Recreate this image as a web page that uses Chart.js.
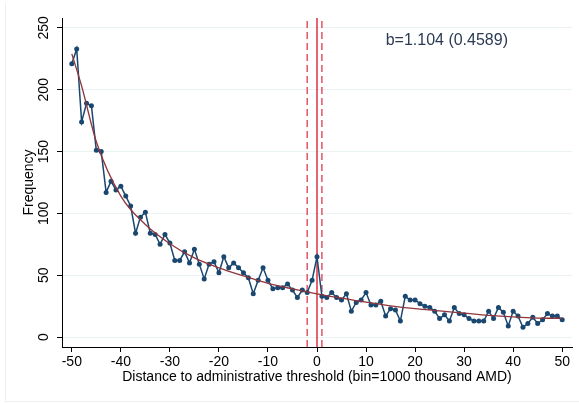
<!DOCTYPE html>
<html>
<head>
<meta charset="utf-8">
<script src="https://cdn.jsdelivr.net/npm/chart.js@4/dist/chart.umd.min.js"></script>
<style>
  html, body { margin: 0; padding: 0; background: #fff; }
  #chart { display: block; }
</style>
</head>
<body>
<canvas id="chart" width="579" height="403"></canvas>
<script>
// Bins (distance to threshold)
const bins = [-50, -49, -48, -47, -46, -45, -44, -43, -42, -41,
    -40, -39, -38, -37, -36, -35, -34, -33, -32, -31,
    -30, -29, -28, -27, -26, -25, -24, -23, -22, -21,
    -20, -19, -18, -17, -16, -15, -14, -13, -12, -11,
    -10, -9, -8, -7, -6, -5, -4, -3, -2, -1,
    0, 1, 2, 3, 4, 5, 6, 7, 8, 9,
    10, 11, 12, 13, 14, 15, 16, 17, 18, 19,
    20, 21, 22, 23, 24, 25, 26, 27, 28, 29,
    30, 31, 32, 33, 34, 35, 36, 37, 38, 39,
    40, 41, 42, 43, 44, 45, 46, 47, 48, 49, 50];

// Frequency per bin
const frequency = [221, 233, 174, 189, 187, 151, 150, 117, 126, 119,
    122, 114, 106, 84, 97, 101, 84, 83, 75, 83,
    76, 62, 62, 69, 60, 71, 59, 47, 59, 61,
    52, 65, 56, 60, 56, 52, 48, 35, 46, 56,
    46, 39, 40, 40, 43, 38, 32, 38, 36, 46,
    65, 33, 32, 36, 32, 30, 35, 21, 28, 30,
    36, 26, 26, 29, 17, 23, 22, 13, 33, 30,
    30, 27, 25, 24, 21, 15, 18, 13, 24, 19,
    18, 15, 13, 13, 13, 21, 15, 24, 20, 9,
    21, 17, 8, 11, 16, 11, 14, 19, 17, 17, 14];

// Fitted curve
const fitX = [-50, -48, -45, -40, -35, -30, -25, -20, -15, -10, -5, 0, 5, 10, 15, 20, 25, 30, 35, 40, 45, 50];
const fitY = [229, 203, 158, 114, 91, 75.5, 64, 56, 49.5, 43.5, 39, 35, 31.5, 28.2, 25.3, 23, 21.2, 19.4, 17.6, 16.3, 15.4, 15.2];

// Threshold and window lines
const cutoff = [0];
const windowEdges = [-2, 1];

// Axis ticks
const xTicks = [-50, -40, -30, -20, -10, 0, 10, 20, 30, 40, 50];
const yTicks = [0, 50, 100, 150, 200, 250];
const yRange = [-8, 258];

const note = 'b=1.104 (0.4589)';

const navy = '#1a476f';
const maroon = '#90353b';
const fontFamily = '"Liberation Sans", Arial, sans-serif';

function vline(x, dashed) {
    return {
        data: [{ x: x, y: yRange[0] }, { x: x, y: yRange[1] }],
        borderColor: dashed ? '#e05468' : '#d8323f',
        borderWidth: 1.5,
        borderDash: dashed ? [7, 4] : [],
        pointRadius: 0,
        order: 3
    };
}

// Rotated y tick labels, note text and faint outer frame
const extras = {
    id: 'extras',
    afterDraw(chart) {
        const ctx = chart.ctx;
        const y = chart.scales.y;
        const x = chart.scales.x;
        ctx.save();
        ctx.fillStyle = '#000';
        ctx.font = '14px ' + fontFamily;
        ctx.textAlign = 'center';
        ctx.textBaseline = 'middle';
        yTicks.forEach(v => {
            ctx.save();
            ctx.translate(44, y.getPixelForValue(v));
            ctx.rotate(-Math.PI / 2);
            ctx.fillText(String(v), 0, 0);
            ctx.restore();
        });
        ctx.font = '16px ' + fontFamily;
        ctx.fillStyle = '#2b3a55';
        ctx.textAlign = 'left';
        ctx.fillText(note, x.getPixelForValue(14), y.getPixelForValue(240));
        ctx.strokeStyle = '#eeeeee';
        ctx.lineWidth = 1;
        ctx.beginPath();
        ctx.moveTo(5.5, 3);
        ctx.lineTo(5.5, 401.5);
        ctx.lineTo(579, 401.5);
        ctx.stroke();
        ctx.restore();
    }
};

const ctx = document.getElementById('chart').getContext('2d');
new Chart(ctx, {
    type: 'line',
    data: {
        datasets: [
            {
                data: fitX.map((v, i) => ({ x: v, y: fitY[i] })),
                borderColor: maroon,
                borderWidth: 1.3,
                pointRadius: 0,
                cubicInterpolationMode: 'monotone',
                order: 1
            },
            {
                data: bins.map((v, i) => ({ x: v, y: frequency[i] })),
                borderColor: navy,
                backgroundColor: navy,
                borderWidth: 1.5,
                pointRadius: 2.5,
                pointBorderWidth: 0,
                pointBackgroundColor: navy,
                order: 2
            },
            vline(cutoff[0], false),
            vline(windowEdges[0], true),
            vline(windowEdges[1], true)
        ]
    },
    options: {
        responsive: false,
        animation: false,
        layout: { padding: { left: 0, top: 18, right: 7, bottom: 0 } },
        plugins: {
            legend: { display: false },
            tooltip: { enabled: false }
        },
        scales: {
            x: {
                type: 'linear',
                min: -52,
                max: 52,
                afterBuildTicks: s => { s.ticks = xTicks.map(v => ({ value: v })); },
                afterFit: s => { s.height = 56; },
                ticks: {
                    color: '#000',
                    font: { family: fontFamily, size: 14 },
                    padding: 2,
                    maxRotation: 0
                },
                grid: {
                    drawOnChartArea: false,
                    tickColor: '#000',
                    tickLength: 5
                },
                border: { color: '#000', width: 1 },
                title: {
                    display: true,
                    text: 'Distance to administrative threshold (bin=1000 thousand AMD)',
                    color: '#000',
                    font: { family: fontFamily, size: 14 },
                    padding: { top: 0, bottom: 17 }
                }
            },
            y: {
                min: yRange[0],
                max: yRange[1],
                afterBuildTicks: s => { s.ticks = yTicks.map(v => ({ value: v })); },
                afterFit: s => { s.width = 62; },
                ticks: { display: false },
                grid: {
                    color: '#eaf2f3',
                    tickColor: '#000',
                    tickLength: 5
                },
                border: { color: '#000', width: 1 },
                title: {
                    display: true,
                    text: 'Frequency',
                    color: '#000',
                    font: { family: fontFamily, size: 14 },
                    padding: { top: 21, bottom: 0 }
                }
            }
        }
    },
    plugins: [extras]
});
</script>
</body>
</html>
